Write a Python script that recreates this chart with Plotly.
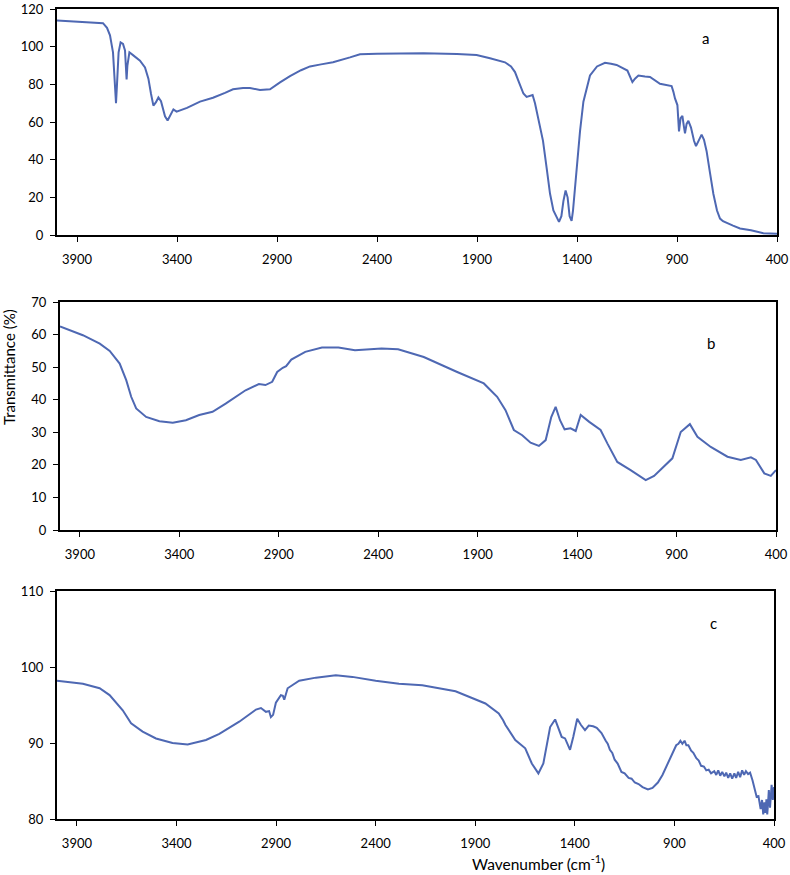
import plotly.graph_objects as go

# ---- Panel a ----
a_wn = [4000, 3900, 3800, 3770, 3750, 3735, 3720, 3710, 3705, 3700, 3692, 3682, 3670, 3660, 3655, 3652, 3648, 3642, 3638,
        3620, 3585, 3560, 3543, 3530, 3518, 3505, 3493, 3480, 3460, 3447, 3435, 3418, 3402, 3350, 3285, 3220, 3160, 3120,
        3070, 3035, 2985, 2935, 2885, 2835, 2780, 2735, 2680, 2620, 2535, 2485, 2400, 2335, 2168, 2000, 1902, 1835, 1760,
        1730, 1710, 1690, 1668, 1652, 1635, 1622, 1610, 1593, 1570, 1552, 1535, 1518, 1500, 1490, 1478, 1468, 1457, 1447,
        1437, 1427, 1420, 1410, 1402, 1385, 1368, 1350, 1335, 1300, 1260, 1230, 1202, 1148, 1133, 1123, 1110, 1093, 1060,
        1035, 985, 940, 927, 918, 910, 898, 893, 890, 882, 873, 866, 860, 852, 843, 830, 815, 805, 790, 777, 765, 752, 735,
        718, 700, 685, 670, 652, 620, 585, 530, 468, 430, 400]
a_t = [113.9, 113.3, 112.9, 112.5, 110, 106, 97, 80, 70, 80, 97, 102.3, 101.5, 98, 90, 82.6, 90, 96, 97,
       95.5, 92.6, 89, 83, 75, 68.7, 70.5, 73, 71, 63, 60.8, 63, 66.7, 65.5, 67.5, 70.8, 72.9, 75.5, 77.4,
       78, 78.1, 77, 77.4, 81, 84.4, 87.5, 89.5, 90.6, 91.7, 94.3, 96, 96.3, 96.4, 96.5, 96.1, 95.6, 93.8, 91.7,
       89.5, 86.5, 81, 75.1, 73.3, 74, 74.3, 70, 62, 50, 35.8, 22, 13.1, 9.5, 7, 10, 18, 23.6, 20,
       10, 7.5, 13, 25, 35.8, 55, 70.8, 79, 84.7, 89.5, 91.4, 90.9, 90.3, 87.3, 84, 81.2, 83, 84.7, 84.2,
       83.9, 80.3, 79.3, 79.1, 76, 72.5, 69, 61, 55, 62, 63.2, 58, 54, 59, 60.6, 57, 50, 47.2, 51, 53.3, 50.5, 44.5, 33,
       21.8, 13, 8.7, 7.3, 6.4, 5, 3.5, 2.5, 0.9, 0.6, 0.7]

# ---- Panel b ----
b_wn = [4000, 3885, 3800, 3750, 3700, 3667, 3642, 3617, 3567, 3500, 3433, 3367, 3300, 3233, 3167, 3067, 3000, 2967,
        2933, 2908, 2880, 2863, 2837, 2767, 2683, 2600, 2517, 2383, 2300, 2171, 2003, 1869, 1802, 1760, 1718, 1676,
        1634, 1592, 1558, 1530, 1508, 1486, 1463, 1433, 1407, 1382, 1339, 1282, 1248, 1198, 1131, 1055, 1013, 963,
        921, 879, 833, 795, 728, 644, 577, 526, 501, 459, 426, 400]
b_t = [62.5, 59.8, 57.2, 55, 51.1, 46, 40.9, 37.3, 34.7, 33.4, 32.9, 33.7, 35.3, 36.3, 38.8, 42.9, 44.8, 44.5,
       45.5, 48.5, 49.8, 50.3, 52.3, 54.7, 56, 56, 55.2, 55.7, 55.5, 53.1, 48.5, 45, 40.9, 36.8, 30.7, 29.1,
       26.8, 25.8, 27.6, 34.7, 37.8, 33.7, 30.9, 31.2, 30.4, 35.3, 33.2, 30.7, 26.6, 20.9, 18.4, 15.3, 16.6, 19.4,
       22, 30.1, 32.5, 28.6, 25.5, 22.5, 21.5, 22.3, 21.5, 17.4, 16.6, 18.4]

# ---- Panel c ----
c_wn = [4000, 3870, 3786, 3736, 3670, 3628, 3570, 3503, 3420, 3344, 3252, 3185, 3085, 3001, 2976, 2951, 2935, 2926,
        2915, 2901, 2876, 2866, 2859, 2842, 2784, 2700, 2600, 2517, 2400, 2283, 2166, 1999, 1849, 1782, 1760, 1749,
        1699, 1649, 1616, 1583, 1558, 1524, 1499, 1483, 1466, 1449, 1424, 1408, 1388, 1370, 1349, 1330, 1308, 1290,
        1266, 1245, 1235, 1224, 1212, 1200, 1185, 1166, 1150, 1130, 1115, 1099, 1080, 1060, 1033, 1010, 983, 960, 933,
        910, 891, 880, 870, 860, 849, 840, 830, 816, 805, 790, 778, 766, 752, 740, 728, 716,
        700, 690, 680, 670, 660, 649, 640, 630, 620, 610, 599, 590, 580, 570, 560, 550, 541, 530, 520,
        508, 498, 487, 478, 467, 460, 454, 448, 443, 438, 434, 430, 426, 420, 412, 406, 400]
c_t = [98.2, 97.8, 97.2, 96.3, 94.3, 92.6, 91.5, 90.6, 90.0, 89.8, 90.4, 91.2, 92.8, 94.4, 94.6, 94.1, 94.2, 93.4,
       93.7, 95.3, 96.3, 96.2, 95.7, 97.2, 98.2, 98.6, 98.9, 98.7, 98.2, 97.8, 97.6, 96.8, 95.2, 93.9, 93.0, 92.4,
       90.4, 89.3, 87.3, 86.0, 87.3, 92.1, 93.1, 92.1, 90.8, 90.6, 89.1, 90.8, 93.2, 92.4, 91.7, 92.3, 92.2, 92.0,
       91.3, 90.3, 89.9, 89.1, 88.7, 87.8, 87.3, 86.2, 86.0, 85.4, 85.3, 84.8, 84.6, 84.2, 83.9, 84.1, 84.8, 85.8, 87.3,
       88.8, 89.7, 89.9, 90.3, 89.9, 90.3, 89.7, 89.7, 89.0, 88.7, 88.0, 87.7, 87.0, 86.9, 86.4, 86.5, 86.0,
       86.3, 85.8, 86.4, 85.7, 86.2, 85.6, 86.1, 85.4, 86.0, 85.3, 86.0, 85.4, 86.2, 85.5, 86.4, 85.8, 86.3, 85.9, 86.1,
       85.1, 84.2, 82.9, 83.0, 81.3, 82.5, 80.6, 82.2, 80.8, 82.6, 80.6, 82.0, 83.8, 81.5, 84.5, 82.5, 84.2]

x_ticks = [3900, 3400, 2900, 2400, 1900, 1400, 900, 400]
a_yticks = [0, 20, 40, 60, 80, 100, 120]
b_yticks = [0, 10, 20, 30, 40, 50, 60, 70]
c_yticks = [80, 90, 100, 110]
panel_labels = ["a", "b", "c"]

W, H = 790, 875
LINE = "#4E68B3"
FONT = "Lato, 'Open Sans', sans-serif"


def xd(p0, p1):
    return [p0 / W, p1 / W]


def yd(top, bottom):
    return [1 - bottom / H, 1 - top / H]


fig = go.Figure()
fig.add_trace(go.Scatter(x=a_wn, y=a_t, mode="lines", line=dict(color=LINE, width=2), xaxis="x", yaxis="y"))
fig.add_trace(go.Scatter(x=b_wn, y=b_t, mode="lines", line=dict(color=LINE, width=2), xaxis="x2", yaxis="y2"))
fig.add_trace(go.Scatter(x=c_wn, y=c_t, mode="lines", line=dict(color=LINE, width=2), xaxis="x3", yaxis="y3"))

common_x = dict(range=[4000, 400], tickvals=x_ticks, ticktext=[str(v) for v in x_ticks], automargin=False,
                showline=True, linecolor="black", linewidth=2, mirror=True, ticks="outside", ticklen=5,
                tickcolor="black", showgrid=False, zeroline=False, tickfont=dict(size=13, color="black", family=FONT),
                ticklabelstandoff=6, ticklabeloverflow="allow")
common_y = dict(showline=True, linecolor="black", linewidth=2, mirror=True, ticks="outside", ticklen=5,
                automargin=False, ticklabeloverflow="allow",
                tickcolor="black", showgrid=False, zeroline=False, tickfont=dict(size=13, color="black", family=FONT),
                ticklabelstandoff=4)

domains = [
    (xd(57, 777), yd(9, 235), [0, 120], a_yticks),
    (xd(60, 776), yd(302, 530), [0, 70], b_yticks),
    (xd(57, 774), yd(591, 819), [80, 110], c_yticks),
]
layout = {}
for i, (dx, dy, yr, yt) in enumerate(domains):
    sfx = "" if i == 0 else str(i + 1)
    layout["xaxis" + sfx] = dict(common_x, domain=dx, anchor="y" + sfx)
    layout["yaxis" + sfx] = dict(common_y, domain=dy, anchor="x" + sfx, range=yr, tickvals=yt)

fig.update_layout(**layout)

ann = []
label_pos = [(705, 38), (711, 343), (713, 623)]
for lab, (px, py) in zip(panel_labels, label_pos):
    ann.append(dict(text=lab, x=px / W, y=1 - py / H, xref="paper", yref="paper", showarrow=False,
                    font=dict(size=15, color="black", family=FONT), xanchor="center", yanchor="middle"))
ann.append(dict(text="Transmittance (%)", x=9 / W, y=1 - 367 / H, xref="paper", yref="paper", showarrow=False,
                textangle=-90, font=dict(size=15, color="black", family=FONT), xanchor="center", yanchor="middle"))
ann.append(dict(text="Wavenumber (cm<sup>-1</sup>)", x=538 / W, y=1 - 862 / H, xref="paper", yref="paper",
                showarrow=False, font=dict(size=15.5, color="black", family=FONT), xanchor="center", yanchor="middle"))

fig.update_layout(width=W, height=H, margin=dict(l=0, r=0, t=0, b=0, autoexpand=False), showlegend=False,
                  plot_bgcolor="white", paper_bgcolor="white", annotations=ann, hovermode=False)

fig.write_html("out.html", config={"displayModeBar": False, "staticPlot": True},
               post_script="document.body.style.margin='0';document.body.style.overflow='hidden';")
